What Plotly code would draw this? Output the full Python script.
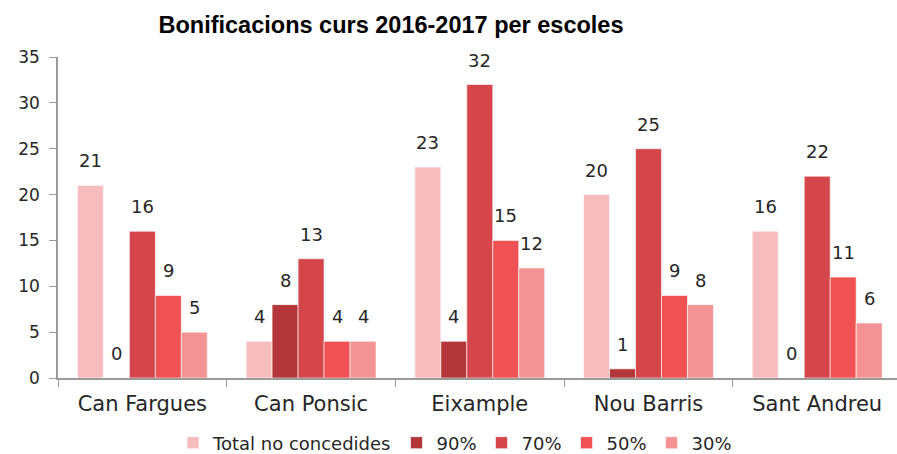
import plotly.graph_objects as go

categories = ["Can Fargues", "Can Ponsic", "Eixample", "Nou Barris", "Sant Andreu"]
series_names = ["Total no concedides", "90%", "70%", "50%", "30%"]
total_no = [21, 4, 23, 20, 16]
p90 = [0, 8, 4, 1, 0]
p70 = [16, 13, 32, 25, 22]
p50 = [9, 4, 15, 9, 11]
p30 = [5, 4, 12, 8, 6]
y_ticks = [0, 5, 10, 15, 20, 25, 30, 35]

colors = ["#F7BCBD", "#B3363A", "#D5464A", "#F05254", "#F49394"]
series = [total_no, p90, p70, p50, p30]

FONT = "DejaVu Sans"
TXT = "#262626"

W, H = 897, 454
left, right, top, bottom = 58, 0, 57, 76
x_range = [-0.5, 4.473]
bargap = 0.23

fig = go.Figure()
for name, vals, col in zip(series_names, series, colors):
    fig.add_trace(go.Bar(
        x=categories, y=vals, name=name,
        marker=dict(color=col, line=dict(color="rgba(255,255,255,0.6)", width=1)),
        cliponaxis=False,
    ))

# data labels placed above each bar of the group
px_per_cat = (W - left - right) / (x_range[1] - x_range[0])
bar_w = px_per_cat * (1 - bargap) / len(series)
n = len(series)
for i, vals in enumerate(series):
    off = (i - (n - 1) / 2) * bar_w
    for cat, v in zip(categories, vals):
        fig.add_annotation(
            x=cat, y=v, xref="x", yref="y", text=str(v), showarrow=False,
            xanchor="center", yanchor="bottom", xshift=off, yshift=12,
            font=dict(family=FONT, size=18, color=TXT),
        )

fig.update_layout(
    width=W, height=H,
    margin=dict(l=left, r=right, t=top, b=bottom),
    paper_bgcolor="white", plot_bgcolor="white",
    barmode="group", bargap=bargap, bargroupgap=0,
    font=dict(family=FONT, size=18, color=TXT),
    title=dict(text="<b>Bonificacions curs 2016-2017 per escoles</b>",
               x=391 / W, xanchor="center", xref="container",
               y=1 - 25 / H, yanchor="middle", yref="container",
               font=dict(family="Liberation Sans", size=23.5, color="black")),
    legend=dict(orientation="h", x=455 / W, xanchor="center", xref="container",
                y=1 - 443 / H, yanchor="middle", yref="container",
                font=dict(family=FONT, size=18, color=TXT),
                itemwidth=30, tracegroupgap=0, traceorder="normal"),
    showlegend=True,
)
fig.update_xaxes(
    range=x_range, showline=True, linecolor="#9A9A9A", linewidth=1.5,
    ticks="outside", tickson="boundaries", ticklen=7, tickcolor="#9A9A9A",
    tickfont=dict(family=FONT, size=21, color=TXT), ticklabelstandoff=6,
    showgrid=False, zeroline=False,
)
fig.update_yaxes(
    range=[0, 35], tickvals=y_ticks, showline=True, linecolor="#9A9A9A", linewidth=1.5,
    ticks="outside", ticklen=7, tickcolor="#9A9A9A",
    tickfont=dict(family=FONT, size=17, color=TXT), ticklabelstandoff=6,
    showgrid=False, zeroline=False,
)
fig.write_html("out.html", config={"displayModeBar": False},
               post_script="document.body.style.margin='0';document.body.style.padding='0';")
